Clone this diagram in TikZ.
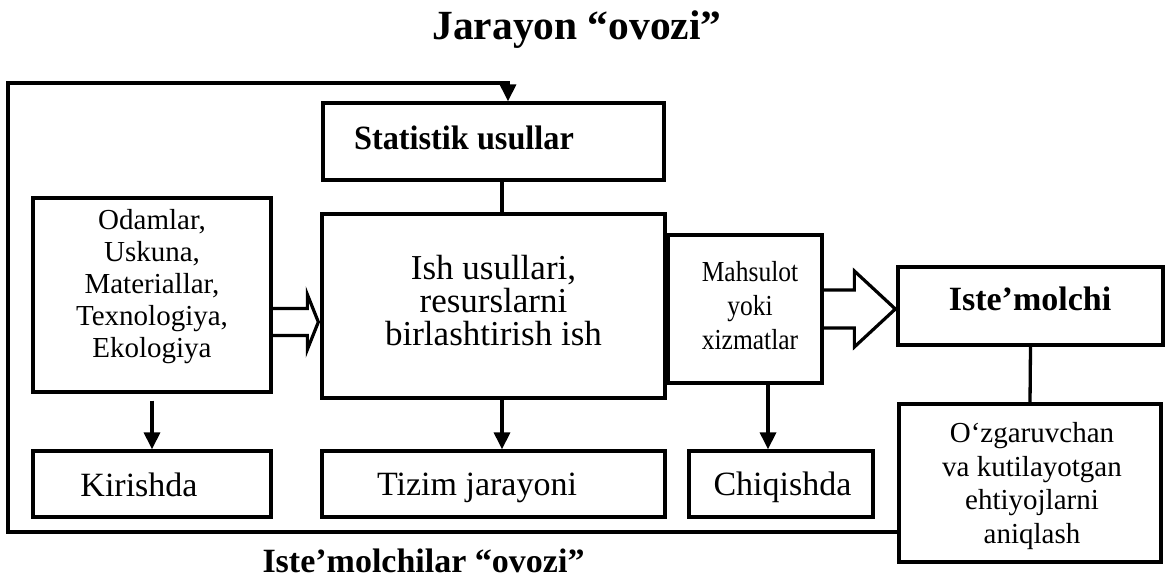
\documentclass[tikz,border=0pt]{standalone}
\usepackage{fontspec}
\setmainfont{Liberation Serif}
\newfontfamily\narrowserif[FakeStretch=0.88]{Liberation Serif}
\newfontfamily\narrowbold[FakeStretch=0.95]{Liberation Serif Bold}
\usetikzlibrary{arrows.meta,calc}

\tikzset{
  box/.style={draw, line width=3.3pt, inner sep=0pt},
  conn/.style={line width=3.3pt},
  arr/.style={conn, -{Triangle[width=16pt,length=17pt]}},
  hollow/.style={line width=3.2pt, line join=miter},
  txt/.style={inner sep=0pt, align=center},
}

\begin{document}
\begin{tikzpicture}[x=1pt,y=-1pt]
\useasboundingbox (0,0) rectangle (1166,578);

% title
\node[txt, anchor=base, font=\fontsize{41.5}{48}\selectfont\bfseries] (title) at (577,40) {Jarayon “ovozi”};

% boxes
\node[box, minimum width=341pt, minimum height=77pt]  (stat)  at (493.5,141.5) {};
\node[box, minimum width=238pt, minimum height=194pt] (odam)  at (152,295) {};
\node[box, minimum width=343pt, minimum height=184pt] (ish)   at (493.5,306) {};
\node[box, minimum width=154pt, minimum height=148pt] (mahs)  at (745,309) {};
\node[box, minimum width=265pt, minimum height=78pt]  (iste)  at (1030.5,306) {};
\node[box, minimum width=262pt, minimum height=158pt] (oz)    at (1030,483) {};
\node[box, minimum width=238pt, minimum height=66pt]  (kir)   at (152,484) {};
\node[box, minimum width=343pt, minimum height=66pt]  (tiz)   at (493.5,484) {};
\node[box, minimum width=184pt, minimum height=66pt]  (chiq)  at (781,484) {};

% texts
\node[txt, anchor=base, font=\fontsize{34}{40}\selectfont\narrowbold] (stat-t) at (464,149) {Statistik usullar};
\node[txt, font=\fontsize{29}{32}\selectfont] (odam-t) at (152,286.3)
  {Odamlar,\\Uskuna,\\Materiallar,\\Texnologiya,\\Ekologiya};
\node[txt, font=\fontsize{35}{33}\selectfont] (ish-t) at (493.5,301)
  {Ish usullari,\\resurslarni\\birlashtirish ish};
\node[txt, font=\fontsize{29}{34}\selectfont\narrowserif] (mahs-t) at (750,306)
  {Mahsulot\\yoki\\xizmatlar};
\node[txt, anchor=base, font=\fontsize{34}{40}\selectfont\bfseries] (iste-t) at (1030,310) {Iste’molchi};
\node[txt, font=\fontsize{29}{33.5}\selectfont] (oz-t) at (1032,486)
  {O‘zgaruvchan\\va kutilayotgan\\ehtiyojlarni\\aniqlash};
\node[txt, anchor=base, font=\fontsize{34}{40}\selectfont] (kir-t)  at (139,496) {Kirishda};
\node[txt, anchor=base, font=\fontsize{34}{40}\selectfont] (tiz-t)  at (477,495) {Tizim jarayoni};
\node[txt, anchor=base, font=\fontsize{34}{40}\selectfont] (chiq-t) at (782.5,495) {Chiqishda};

% bottom caption
\node[txt, anchor=base, font=\fontsize{34}{40}\selectfont\bfseries] (voice) at (423.5,572) {Iste’molchilar “ovozi”};

% reference columns and rows for the connectors
\coordinate (c1) at (502,0);
\coordinate (c2) at (768,0);
\coordinate (c3) at (508,0);
\coordinate (fb) at (8,532);
\coordinate (ft) at (8,83);

% plain connectors
\draw[conn] (stat.south -| c1) -- (ish.north -| c1);
\draw[conn] (iste.south) -- (oz.north);

% downward arrows
\draw[arr, shorten <=7pt] (odam.south) -- (kir.north);
\draw[arr] (ish.south -| c1) -- (tiz.north -| c1);
\draw[arr] (mahs.south -| c2) -- (chiq.north -| c2);

% customer feedback loop
\draw[arr] (oz.west |- fb) -- (fb) -- (ft) -- (ft -| c3) -- (stat.north -| c3);

% hollow arrow: resources into the process
\coordinate (c4) at (0,322);
\coordinate (a1s) at (odam.east |- c4);
\coordinate (a1t) at ($(ish.west |- c4)+(-2,0)$);
\draw[hollow] ($(a1s)+(0,-13.5)$) -- ($(a1t)+(-11,-13.5)$) -- ($(a1t)+(-11,-27.5)$)
  -- (a1t) -- ($(a1t)+(-11,27.5)$) -- ($(a1t)+(-11,13.5)$) -- ($(a1s)+(0,13.5)$);

% hollow arrow: products to the customer
\coordinate (c5) at (0,309);
\coordinate (a2s) at (mahs.east |- c5);
\coordinate (a2t) at ($(iste.west |- c5)+(-1,0)$);
\draw[hollow] ($(a2s)+(0,-19)$) -- ($(a2t)+(-41,-19)$) -- ($(a2t)+(-41,-38)$)
  -- (a2t) -- ($(a2t)+(-41,38)$) -- ($(a2t)+(-41,19)$) -- ($(a2s)+(0,19)$);
\end{tikzpicture}
\end{document}
